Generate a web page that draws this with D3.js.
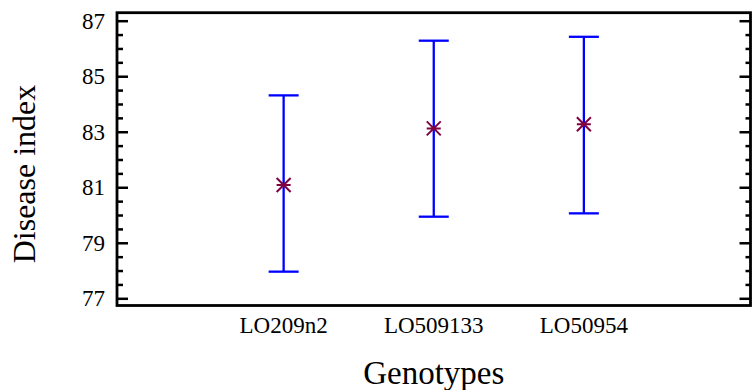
<!DOCTYPE html>
<html>
<head>
<meta charset="utf-8">
<script src="https://cdn.jsdelivr.net/npm/d3@7"></script>
<style>
  body { margin: 0; background: #fff; }
  text { font-family: "Liberation Serif", "Times New Roman", serif; fill: #000; }
</style>
</head>
<body>
<div id="canvas"></div>
<script>
// data
var genotypes = ["LO209n2", "LO509133", "LO50954"];
var means = [81.08, 83.12, 83.27];
var lower = [77.96, 79.94, 80.06];
var upper = [84.31, 86.28, 86.42];
var yTicks = [77, 79, 81, 83, 85, 87];
var yMinor = [77.5, 78, 78.5, 79.5, 80, 80.5, 81.5, 82, 82.5, 83.5, 84, 84.5, 85.5, 86, 86.5];

var W = 752, H = 390;
var box = {left: 117, right: 750.5, top: 12.7, bottom: 305.5};

var svg = d3.select("#canvas")
  .append("svg")
  .attr("width", W)
  .attr("height", H);

var x = d3.scalePoint()
  .domain(genotypes)
  .range([box.left, box.right])
  .padding(1.11);

var y = d3.scaleLinear()
  .domain([77, 87])
  .range([298.3, 20.7]);

// left axis, major + minor ticks pointing inward
var left = svg.append("g")
  .attr("transform", "translate(" + box.left + ",0)")
  .call(d3.axisLeft(y).tickValues(yTicks).tickSize(-11).tickPadding(12).tickFormat(d3.format("d")));
left.select(".domain").remove();
left.selectAll("line").attr("stroke", "#000").attr("stroke-width", 2.5);
left.selectAll("text").style("font-size", "23px");

var leftMinor = svg.append("g")
  .attr("transform", "translate(" + box.left + ",0)")
  .call(d3.axisLeft(y).tickValues(yMinor).tickSize(-6).tickFormat(""));
leftMinor.select(".domain").remove();
leftMinor.selectAll("line").attr("stroke", "#000").attr("stroke-width", 2.5);

// right axis mirror ticks
var right = svg.append("g")
  .attr("transform", "translate(" + box.right + ",0)")
  .call(d3.axisRight(y).tickValues(yTicks).tickSize(-11).tickFormat(""));
right.select(".domain").remove();
right.selectAll("line").attr("stroke", "#000").attr("stroke-width", 2.5);

var rightMinor = svg.append("g")
  .attr("transform", "translate(" + box.right + ",0)")
  .call(d3.axisRight(y).tickValues(yMinor).tickSize(-5).tickFormat(""));
rightMinor.select(".domain").remove();
rightMinor.selectAll("line").attr("stroke", "#000").attr("stroke-width", 2.5);

// frame
svg.append("rect")
  .attr("x", box.left)
  .attr("y", box.top)
  .attr("width", box.right - box.left)
  .attr("height", box.bottom - box.top)
  .attr("fill", "none")
  .attr("stroke", "#000")
  .attr("stroke-width", 2.8);

// category labels
svg.append("g").selectAll("text")
  .data(genotypes)
  .enter()
  .append("text")
  .attr("x", function(d) { return x(d); })
  .attr("y", 333)
  .attr("text-anchor", "middle")
  .style("font-size", "23px")
  .text(function(d) { return d; });

// error bars
var bars = svg.append("g").selectAll("g")
  .data(genotypes)
  .enter()
  .append("g");

bars.append("line")
  .attr("x1", function(d) { return x(d); })
  .attr("x2", function(d) { return x(d); })
  .attr("y1", function(d, i) { return y(upper[i]); })
  .attr("y2", function(d, i) { return y(lower[i]); })
  .attr("stroke", "#0000ff")
  .attr("stroke-width", 2.3);

bars.append("line")
  .attr("x1", function(d) { return x(d) - 15; })
  .attr("x2", function(d) { return x(d) + 15; })
  .attr("y1", function(d, i) { return y(upper[i]); })
  .attr("y2", function(d, i) { return y(upper[i]); })
  .attr("stroke", "#0000ff")
  .attr("stroke-width", 2.3);

bars.append("line")
  .attr("x1", function(d) { return x(d) - 15; })
  .attr("x2", function(d) { return x(d) + 15; })
  .attr("y1", function(d, i) { return y(lower[i]); })
  .attr("y2", function(d, i) { return y(lower[i]); })
  .attr("stroke", "#0000ff")
  .attr("stroke-width", 2.3);

// mean markers (asterisk)
var star = "M-7,0L7,0M-7,-7L7,7M-7,7L7,-7";
bars.append("path")
  .attr("transform", function(d, i) { return "translate(" + x(d) + "," + y(means[i]) + ")"; })
  .attr("d", star)
  .attr("fill", "none")
  .attr("stroke", "#800040")
  .attr("stroke-width", 2);

// axis titles
svg.append("text")
  .attr("x", (box.left + box.right) / 2)
  .attr("y", 384)
  .attr("text-anchor", "middle")
  .style("font-size", "33px")
  .text("Genotypes");

svg.append("text")
  .attr("transform", "translate(35,174) rotate(-90)")
  .attr("text-anchor", "middle")
  .style("font-size", "32px")
  .text("Disease index");
</script>
</body>
</html>
